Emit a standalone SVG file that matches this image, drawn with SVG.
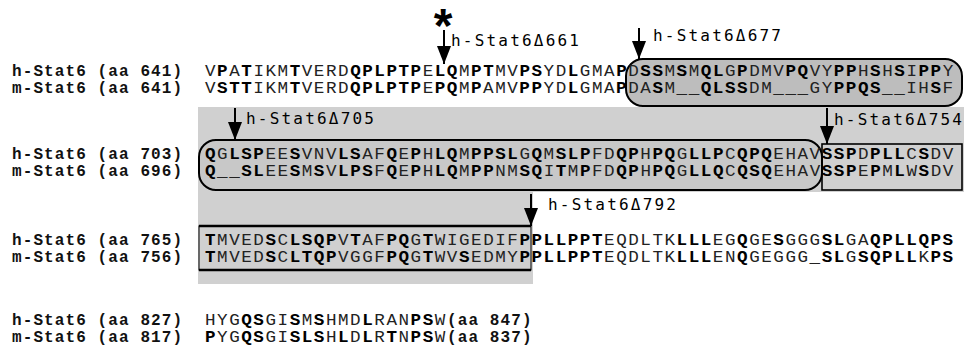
<svg xmlns="http://www.w3.org/2000/svg" width="964" height="352" viewBox="0 0 964 352">
<defs>
<style>
.lbl{font-family:"Liberation Mono","DejaVu Sans Mono",monospace;font-weight:bold;font-size:16px;letter-spacing:1.1px;fill:#111}
.seq{font-family:"Liberation Mono","DejaVu Sans Mono",monospace;font-size:16px;letter-spacing:1.4px;fill:#222}
.b{font-weight:bold;fill:#000}
.ann{font-family:"DejaVu Sans Mono",monospace;font-size:16px;letter-spacing:2.2px;fill:#000}
.ast{font-family:"Liberation Sans",Arial,sans-serif;font-weight:bold;font-size:48px;fill:#000}
.arr{stroke:#000;stroke-width:2;fill:none}
.box{stroke:#000;stroke-width:2}
</style>
<marker id="ah" markerUnits="userSpaceOnUse" viewBox="0 0 18 14" refX="18" refY="7" markerWidth="18" markerHeight="14" orient="auto"><path d="M0,0 L18,7 L0,14 z" fill="#000"/></marker>
</defs>
<rect width="964" height="352" fill="#fff"/>
<g id="shading">
<path d="M198,107 H964 V192 H533 V284 H198 Z" fill="#d0d0d0"/>
</g>
<g id="boxes">
<rect id="box677" class="box" x="626" y="59" width="336" height="47" rx="17" fill="#bdbdbd"/>
<rect id="box705" class="box" x="199" y="140" width="623" height="50" rx="17" fill="#c8c8c8"/>
<rect id="box754" x="822" y="144" width="140" height="46" fill="none" stroke="#000" stroke-width="1.6"/>
<rect id="box792" x="199" y="226" width="332" height="44" fill="none" stroke="#000" stroke-width="1"/>
<line x1="199" y1="226" x2="531" y2="226" stroke="#000" stroke-width="2.5"/>
<line x1="199" y1="270" x2="531" y2="270" stroke="#000" stroke-width="2.5"/>
</g>
<g id="labels">
<text class="lbl" x="12" y="76">h-Stat6 (aa 641)</text>
<text class="lbl" x="12" y="93">m-Stat6 (aa 641)</text>
<text class="lbl" x="12" y="159">h-Stat6 (aa 703)</text>
<text class="lbl" x="12" y="176">m-Stat6 (aa 696)</text>
<text class="lbl" x="12" y="245">h-Stat6 (aa 765)</text>
<text class="lbl" x="12" y="262">m-Stat6 (aa 756)</text>
<text class="lbl" x="12" y="325">h-Stat6 (aa 827)</text>
<text class="lbl" x="12" y="342">m-Stat6 (aa 817)</text>
<text class="lbl" x="447" y="325">(aa 847)</text>
<text class="lbl" x="447" y="342">(aa 837)</text>
</g>
<g id="sequences" transform="translate(205,0) scale(1.1,1)">
<text id="h1" class="seq" x="0" y="76">V<tspan class="b">P</tspan>A<tspan class="b">T</tspan>IKM<tspan class="b">T</tspan>VERD<tspan class="b">QPLPTP</tspan>E<tspan class="b">LQ</tspan>M<tspan class="b">PT</tspan>MV<tspan class="b">PS</tspan>YD<tspan class="b">L</tspan>GMA<tspan class="b">P</tspan>D<tspan class="b">SS</tspan>M<tspan class="b">S</tspan>M<tspan class="b">QL</tspan>G<tspan class="b">P</tspan>DMV<tspan class="b">PQ</tspan>VY<tspan class="b">PP</tspan>H<tspan class="b">S</tspan>H<tspan class="b">S</tspan>I<tspan class="b">PP</tspan>Y</text>
<text id="m1" class="seq" x="0" y="93">V<tspan class="b">STT</tspan>IKM<tspan class="b">T</tspan>VERD<tspan class="b">QPLPTP</tspan>E<tspan class="b">PQ</tspan>M<tspan class="b">P</tspan>AMV<tspan class="b">PP</tspan>YD<tspan class="b">L</tspan>GMA<tspan class="b">P</tspan>DA<tspan class="b">S</tspan>M__<tspan class="b">QLSS</tspan>DM___GY<tspan class="b">PPQS</tspan>__IH<tspan class="b">S</tspan>F</text>
<text id="h2" class="seq" x="0" y="159"><tspan class="b">Q</tspan>G<tspan class="b">LSP</tspan>EE<tspan class="b">S</tspan>VNV<tspan class="b">LS</tspan>AF<tspan class="b">Q</tspan>E<tspan class="b">P</tspan>H<tspan class="b">LQ</tspan>M<tspan class="b">PPSL</tspan>G<tspan class="b">Q</tspan>M<tspan class="b">SLP</tspan>FD<tspan class="b">QP</tspan>H<tspan class="b">PQ</tspan>G<tspan class="b">LLP</tspan>C<tspan class="b">QPQ</tspan>EHAV<tspan class="b">SSP</tspan>D<tspan class="b">PLL</tspan>C<tspan class="b">S</tspan>DV</text>
<text id="m2" class="seq" x="0" y="176"><tspan class="b">Q</tspan>__<tspan class="b">SL</tspan>EE<tspan class="b">S</tspan>M<tspan class="b">S</tspan>V<tspan class="b">LPS</tspan>F<tspan class="b">Q</tspan>E<tspan class="b">P</tspan>H<tspan class="b">LQ</tspan>M<tspan class="b">PP</tspan>NM<tspan class="b">SQ</tspan>I<tspan class="b">T</tspan>M<tspan class="b">P</tspan>FD<tspan class="b">QP</tspan>H<tspan class="b">PQ</tspan>G<tspan class="b">LLQ</tspan>C<tspan class="b">QSQ</tspan>EHAV<tspan class="b">SSP</tspan>E<tspan class="b">P</tspan>M<tspan class="b">L</tspan>W<tspan class="b">S</tspan>DV</text>
<text id="h3" class="seq" x="0" y="245"><tspan class="b">T</tspan>MVED<tspan class="b">S</tspan>C<tspan class="b">LSQP</tspan>V<tspan class="b">T</tspan>AF<tspan class="b">PQ</tspan>G<tspan class="b">T</tspan>WIGEDIF<tspan class="b">PPLLPPT</tspan>EQDLTK<tspan class="b">LLL</tspan>EG<tspan class="b">Q</tspan>GE<tspan class="b">S</tspan>GGG<tspan class="b">SL</tspan>GA<tspan class="b">QPLLQPS</tspan></text>
<text id="m3" class="seq" x="0" y="262"><tspan class="b">T</tspan>MVED<tspan class="b">S</tspan>C<tspan class="b">LTQP</tspan>VGGF<tspan class="b">PQ</tspan>G<tspan class="b">T</tspan>WV<tspan class="b">S</tspan>EDMY<tspan class="b">PPLLPPT</tspan>EQDLTK<tspan class="b">LLL</tspan>EN<tspan class="b">Q</tspan>GEGGG_<tspan class="b">SL</tspan>G<tspan class="b">SQPLL</tspan>K<tspan class="b">PS</tspan></text>
<text id="h4" class="seq" x="0" y="325">HYG<tspan class="b">QS</tspan>GI<tspan class="b">S</tspan>M<tspan class="b">S</tspan>HMD<tspan class="b">L</tspan>RAN<tspan class="b">PS</tspan>W</text>
<text id="m4" class="seq" x="0" y="342"><tspan class="b">P</tspan>YG<tspan class="b">QS</tspan>GI<tspan class="b">SLS</tspan>H<tspan class="b">L</tspan>D<tspan class="b">L</tspan>R<tspan class="b">T</tspan>N<tspan class="b">PS</tspan>W</text>
</g>
<g id="connectors">
<line class="arr" x1="444" y1="30" x2="444" y2="64" marker-end="url(#ah)"/>
<line class="arr" x1="639" y1="28" x2="639" y2="59" marker-end="url(#ah)"/>
<line class="arr" x1="235" y1="108" x2="235" y2="140" marker-end="url(#ah)"/>
<line class="arr" x1="827" y1="108" x2="827" y2="144" marker-end="url(#ah)"/>
<line class="arr" x1="531" y1="194" x2="531" y2="226" marker-end="url(#ah)"/>
</g>
<g id="annotations">
<text class="ast" x="443" y="42" text-anchor="middle">*</text>
<text class="ann" x="451" y="46">h-Stat6Δ661</text>
<text class="ann" x="653" y="41">h-Stat6Δ677</text>
<text class="ann" x="246" y="124">h-Stat6Δ705</text>
<text class="ann" x="834" y="125">h-Stat6Δ754</text>
<text class="ann" x="548" y="210">h-Stat6Δ792</text>
</g>
</svg>
